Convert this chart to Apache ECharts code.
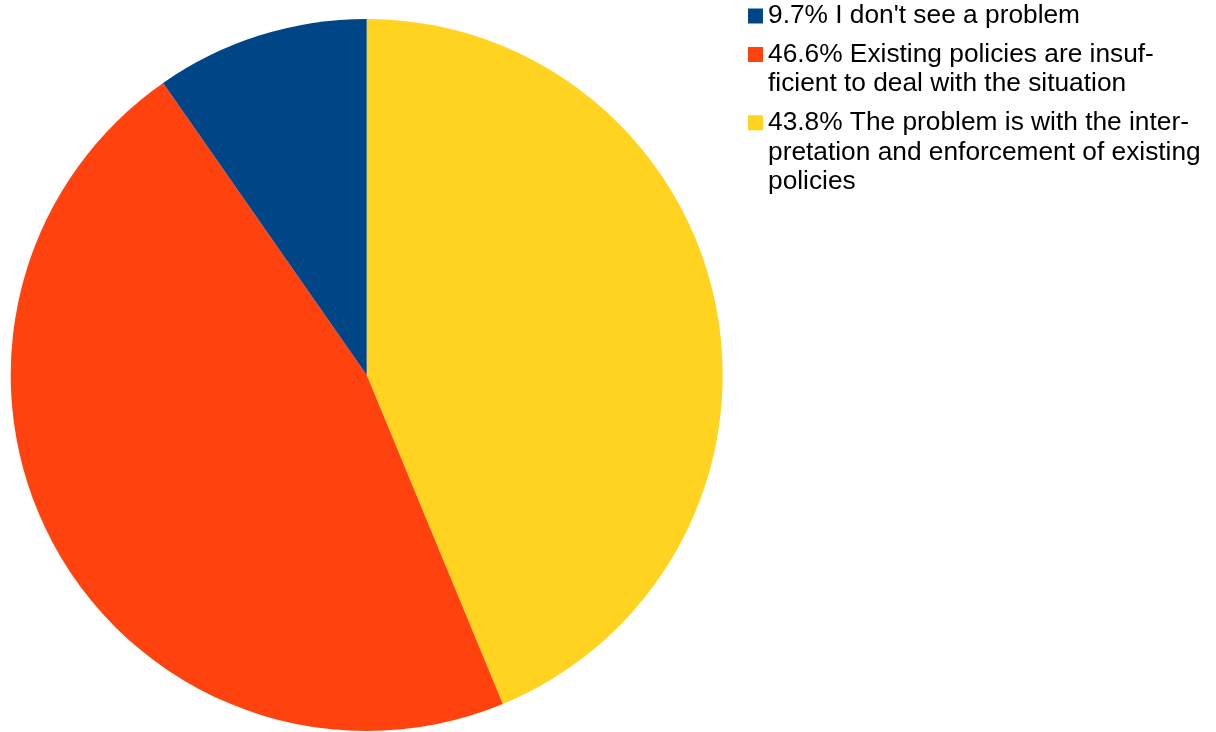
<!DOCTYPE html>
<html>
<head>
<meta charset="utf-8">
<script src="https://cdn.jsdelivr.net/npm/echarts@6/dist/echarts.min.js"></script>
<style>
  html, body { margin: 0; padding: 0; background: #fff; }
  #chart { width: 1216px; height: 732px; }
</style>
</head>
<body>
<div id="chart"></div>
<script>
// Survey answers, in the order the slices run clockwise from 12 o'clock
const categories = [
  'The problem is with the interpretation and enforcement of existing policies',
  'Existing policies are insufficient to deal with the situation',
  "I don't see a problem"
];
const shares = [43.8, 46.6, 9.7];
const colors = ['#ffd320', '#ff420e', '#004586'];

// Legend entries (listed top to bottom) with their wrapped text lines
const legendOrder = [2, 1, 0];
const legendLines = [
  ["9.7% I don't see a problem"],
  ['46.6% Existing policies are insuf-', 'ficient to deal with the situation'],
  ['43.8% The problem is with the inter-', 'pretation and enforcement of existing', 'policies']
];
const legendIconCenters = [16, 54.5, 122.8];

const LINE_H = 29.5;
const ICON = 15;

// Each entry is its own legend so the swatch sits beside the first text line:
// blank lines above the text keep the (centred) swatch level with line one.
const legends = legendOrder.map((idx, k) => {
  const lines = legendLines[k];
  const n = lines.length;
  const blank = new Array(n - 1).fill(' ');
  return {
    orient: 'vertical',
    left: 748,
    top: legendIconCenters[k] - (2 * n - 1) * LINE_H / 2,
    padding: 0,
    itemWidth: ICON,
    itemHeight: ICON,
    icon: 'rect',
    selectedMode: false,
    data: [categories[idx]],
    formatter: () => blank.concat(lines).join('\n'),
    textStyle: {
      fontFamily: 'Liberation Sans, Arial, sans-serif',
      fontSize: 26.3,
      lineHeight: LINE_H,
      color: '#000'
    }
  };
});

const chart = echarts.init(document.getElementById('chart'), null, { renderer: 'canvas' });
chart.setOption({
  animation: false,
  color: colors,
  legend: legends,
  series: [{
    type: 'pie',
    center: [366.7, 375],
    radius: [0, 356],
    startAngle: 90,
    clockwise: true,
    label: { show: false },
    labelLine: { show: false },
    emphasis: { disabled: true },
    itemStyle: { borderWidth: 0 },
    data: categories.map((name, i) => ({ name, value: shares[i] }))
  }]
});
</script>
</body>
</html>
